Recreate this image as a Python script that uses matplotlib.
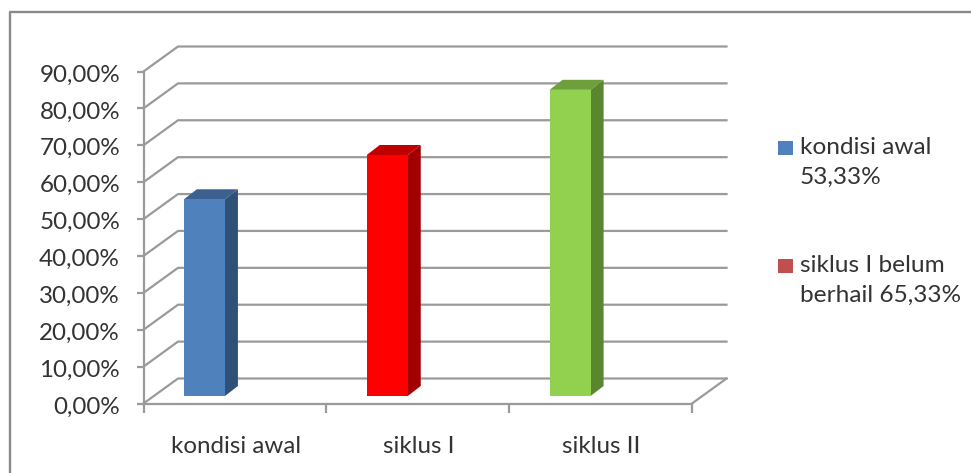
import matplotlib
matplotlib.use("Agg")
import matplotlib.pyplot as plt
from matplotlib.patches import Polygon, Rectangle
from matplotlib.transforms import ScaledTranslation

categories = ["kondisi awal", "siklus I", "siklus II"]
values = [53.33, 65.33, 83.0]
front_colors = ["#4F81BD", "#FF0000", "#92D050"]
top_colors = ["#3C6190", "#C00000", "#6F9E3C"]
side_colors = ["#2F5077", "#A00000", "#5C8530"]
y_ticks = [0, 10, 20, 30, 40, 50, 60, 70, 80, 90]
y_labels = ["0,00%", "10,00%", "20,00%", "30,00%", "40,00%", "50,00%",
            "60,00%", "70,00%", "80,00%", "90,00%"]
legend_labels = ["kondisi awal\n53,33%", "siklus I belum\nberhail 65,33%"]
legend_colors = ["#4F81BD", "#C0504D"]

W, H = 971, 473
plt.rcParams["font.family"] = ["Lato", "DejaVu Sans"]
TXT = "#333333"
GRID = "#9A9A9A"

fig = plt.figure(figsize=(W / 100, H / 100), dpi=100, facecolor="white")

# chart frame (open at right and bottom)
fig.add_artist(plt.Line2D([9.5 / W, 9.5 / W, 1], [0, 1 - 12.5 / H, 1 - 12.5 / H],
                          color="#8A8A8A", lw=1.7))

# front plane of the 3D box
L, R, B, T = 143.5, 692, 403.5, 71.5
ax = fig.add_axes([L / W, 1 - B / H, (R - L) / W, (B - T) / H])
ax.set_xlim(0, 3)
ax.set_ylim(0, 90)
ax.patch.set_alpha(0)
for s in ["top", "right"]:
    ax.spines[s].set_visible(False)
for s in ["left", "bottom"]:
    ax.spines[s].set_color(GRID)
    ax.spines[s].set_linewidth(1.6)

sx = 3 / (R - L)        # data units per pixel, x
sy = 90 / (B - T)       # data units per pixel, y
depth_x, depth_y = 34.5 * sx, 25 * sy

# back wall gridlines and left wall diagonals
for v in y_ticks:
    ax.plot([0, depth_x, 3 + depth_x], [v, v + depth_y, v + depth_y],
            color=GRID, lw=1.6, clip_on=False, zorder=1, solid_joinstyle="round")
ax.plot([3, 3 + depth_x], [0, depth_y], color=GRID, lw=1.6, clip_on=False, zorder=1)

# bars
bar_w = 41 * sx
shift_x = -30.5 * sx
lift = 7.5 * sy
bx, by = 13 * sx, 10 * sy
for i, v in enumerate(values):
    x0 = i + 0.5 + shift_x - bar_w / 2
    x1 = x0 + bar_w
    top = v + lift
    ax.add_patch(Polygon([(x1, lift), (x1 + bx, lift + by), (x1 + bx, top + by), (x1, top)],
                         fc=side_colors[i], ec="none", zorder=3, clip_on=False))
    ax.add_patch(Polygon([(x0, top), (x1, top), (x1 + bx, top + by), (x0 + bx, top + by)],
                         fc=top_colors[i], ec="none", zorder=3, clip_on=False))
    ax.add_patch(Rectangle((x0, lift), bar_w, v,
                           fc=front_colors[i], ec="none", zorder=4, clip_on=False))

# axes ticks
ax.set_yticks(y_ticks)
ax.set_yticklabels(y_labels, fontsize=17.4, color=TXT)
ax.set_xticks([0, 1, 2, 3])
ax.set_xticklabels([])
ax.tick_params(axis="y", length=5, width=1.6, color=GRID, pad=12)
ax.tick_params(axis="x", length=6.5, width=1.6, color=GRID)
down = ScaledTranslation(0, -1.5 / 100, fig.dpi_scale_trans)
for lab in ax.get_yticklabels():
    lab.set_transform(lab.get_transform() + down)
for i, c in enumerate(categories):
    ax.annotate(c, xy=(i + 0.5, 0), xytext=(0.5, -31), textcoords="offset points",
                ha="center", va="center", fontsize=17.4, color=TXT, annotation_clip=False)

# legend
leg_y = [148, 266]
for lab, col, y in zip(legend_labels, legend_colors, leg_y):
    fig.add_artist(Rectangle((778 / W, 1 - (y + 7) / H), 15 / W, 14 / H,
                             fc=col, ec="none", transform=fig.transFigure))
    fig.text(800 / W, 1 - (y - 11.5) / H, lab, fontsize=17.6, color=TXT,
             ha="left", va="top", linespacing=1.56)

fig.savefig("out.png", dpi=100)
